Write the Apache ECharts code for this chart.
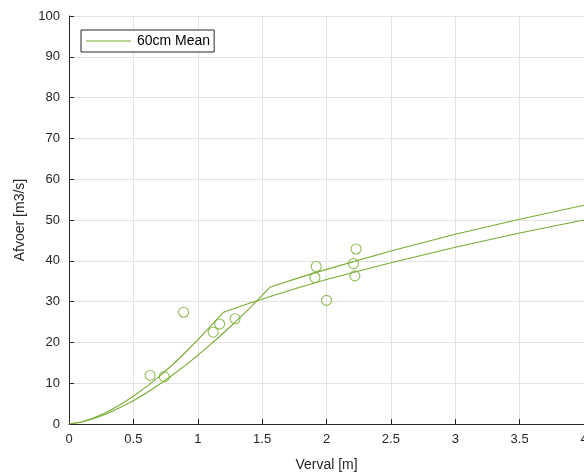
<!DOCTYPE html>
<html>
<head>
<meta charset="utf-8">
<script src="https://cdn.jsdelivr.net/npm/echarts@6/dist/echarts.min.js"></script>
<style>
  html, body { margin: 0; padding: 0; background: #fff; }
  #chart { width: 584px; height: 476px; }
</style>
</head>
<body>
<div id="chart"></div>
<script>
// curve 1: knik bij ~1.2 m
var verval1 = [0, 0.1, 0.2, 0.3, 0.4, 0.5, 0.6, 0.7, 0.8, 0.9, 1.0, 1.1, 1.2, 1.4, 1.6, 1.8, 2.0, 2.5, 3.0, 3.5, 4.0];
var afvoer1 = [0, 0.5, 1.6, 3.0, 4.8, 6.8, 9.1, 11.6, 14.4, 17.4, 20.6, 24.0, 27.4, 29.6, 31.6, 33.6, 35.4, 39.5, 43.3, 46.8, 50.0];
// curve 2: knik bij ~1.56 m
var verval2 = [0, 0.1, 0.2, 0.3, 0.4, 0.5, 0.6, 0.7, 0.8, 0.9, 1.0, 1.1, 1.2, 1.3, 1.4, 1.5, 1.56, 1.8, 2.0, 2.5, 3.0, 3.5, 4.0];
var afvoer2 = [0, 0.5, 1.4, 2.6, 4.1, 5.7, 7.6, 9.7, 11.9, 14.3, 16.8, 19.5, 22.3, 25.3, 28.3, 31.5, 33.5, 36.0, 37.9, 42.4, 46.5, 50.2, 53.6];
// metingen
var metingX = [0.63, 0.74, 0.89, 1.12, 1.17, 1.29, 1.92, 1.91, 2.0, 2.21, 2.23, 2.22];
var metingY = [11.9, 11.6, 27.4, 22.5, 24.5, 25.8, 38.6, 35.9, 30.3, 39.3, 42.9, 36.3];

var groen = '#77AC30';
var tekst = '#262626';

function pairs(xs, ys) {
  var out = [];
  for (var i = 0; i < xs.length; i++) out.push([xs[i], ys[i]]);
  return out;
}

var myChart = echarts.init(document.getElementById('chart'));
var option = {
  animation: false,
  textStyle: { fontFamily: 'Liberation Sans, Arial, sans-serif' },
  grid: { left: 69, right: 0, top: 16, bottom: 52, outerBoundsMode: 'none', containLabel: false },
  legend: {
    data: [{ name: '60cm Mean', icon: 'rect' }],
    left: 81,
    top: 30,
    padding: [4, 4, 4, 5],
    itemWidth: 45,
    itemHeight: 1,
    itemGap: 5,
    borderColor: '#262626',
    borderWidth: 1,
    backgroundColor: '#fff',
    textStyle: { color: '#000', fontSize: 14, lineHeight: 14, padding: [0, 0, 0, 1] }
  },
  xAxis: {
    type: 'value',
    min: 0,
    max: 4,
    interval: 0.5,
    name: 'Verval [m]',
    nameLocation: 'middle',
    nameGap: 34,
    nameTextStyle: { color: tekst, fontSize: 14 },
    axisLine: { lineStyle: { color: tekst } },
    axisTick: { inside: true, length: 5, lineStyle: { color: tekst } },
    axisLabel: { color: tekst, fontSize: 13, margin: 9 },
    splitLine: { lineStyle: { color: '#e3e3e3' } }
  },
  yAxis: {
    type: 'value',
    min: 0,
    max: 100,
    interval: 10,
    name: 'Afvoer [m3/s]',
    nameLocation: 'middle',
    nameGap: 37,
    nameTextStyle: { color: tekst, fontSize: 14 },
    axisLine: { show: true, lineStyle: { color: tekst } },
    axisTick: { show: true, inside: true, length: 5, lineStyle: { color: tekst } },
    axisLabel: { color: tekst, fontSize: 13, margin: 9 },
    splitLine: { lineStyle: { color: '#e3e3e3' } }
  },
  series: [
    {
      name: '60cm Mean',
      type: 'line',
      symbol: 'none',
      lineStyle: { color: groen, width: 1.1 },
      itemStyle: { color: groen },
      data: pairs(verval1, afvoer1)
    },
    {
      name: '60cm Mean',
      type: 'line',
      symbol: 'none',
      lineStyle: { color: groen, width: 1.1 },
      itemStyle: { color: groen },
      data: pairs(verval2, afvoer2)
    },
    {
      name: 'metingen',
      type: 'scatter',
      symbol: 'circle',
      symbolSize: 10,
      itemStyle: { color: 'rgba(0,0,0,0)', borderColor: groen, borderWidth: 1.1 },
      data: pairs(metingX, metingY)
    }
  ]
};
myChart.setOption(option);
</script>
</body>
</html>
